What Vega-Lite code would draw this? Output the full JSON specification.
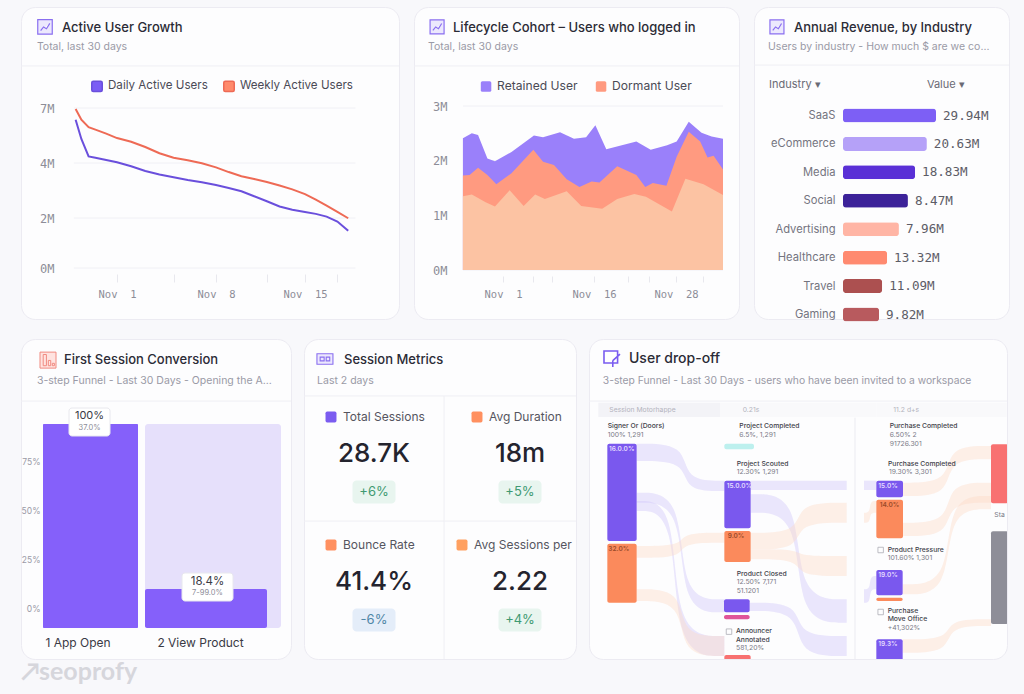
{"$schema":"https://vega.github.io/schema/vega-lite/v6.json","background":"#f8f8fb","padding":{"left":20,"top":6,"right":14,"bottom":5},"spacing":0,"resolve":{"scale":{"color":"independent"}},"config":{"view":{"fill":"#fdfdfe","stroke":"#ecebf2","cornerRadius":14,"strokeWidth":1},"axis":{"grid":false,"domain":false,"title":null},"legend":{"title":null}},"vconcat":[{"spacing":16,"resolve":{"scale":{"color":"independent"}},"vconcat":[{"spacing":13,"resolve":{"scale":{"color":"independent"}},"hconcat":[
{"width":378,"height":312,"title":{"text":"Active User Growth","anchor":"start","frame":"group","dx":41,"offset":-34,"font":"Inter","fontSize":13,"fontWeight":500,"color":"#2b2b36","baseline":"middle"},"resolve":{"scale":{"x":"independent","y":"independent"}},"layer":[
{"layer":[
{"data":{"values":[{"part":"divider"}]},"mark":{"type":"rule","color":"#efeff4"},"encoding":{"x":{"datum":0,"type":"quantitative","scale":{"domain":[0,1]},"axis":null},"x2":{"datum":1},"y":{"datum":0.189,"type":"quantitative","scale":{"domain":[0,1],"reverse":true},"axis":null}}},
{"data":{"values":[{"part":"icon"}]},"mark":{"type":"point","shape":"M-.5,-.5H.5V.5H-.5Z M-.3,.25L-.1,0L.1,.12L.33,-.25","size":841,"fill":"#ece8fd","stroke":"#8a6ff0","strokeWidth":1.2,"opacity":1},"encoding":{"x":{"datum":0.0635,"type":"quantitative","axis":null},"y":{"datum":0.064,"type":"quantitative","axis":null}}},
{"data":{"values":[{"subtitle":"Total, last 30 days"}]},"mark":{"type":"text","align":"left","font":"Inter","fontSize":10.5,"color":"#9a9aa6"},"encoding":{"x":{"datum":0.042,"type":"quantitative","axis":null},"y":{"datum":0.128,"type":"quantitative","axis":null},"text":{"field":"subtitle"}}}
]},
{"layer":[
{"data":{"values":[{"m":0,"from":-3,"to":19.67},{"m":2,"from":-3,"to":19.67},{"m":4,"from":-3,"to":19.67},{"m":7,"from":-3,"to":19.67}]},"mark":{"type":"rule","color":"#f0f0f5"},"encoding":{"x":{"field":"from","type":"quantitative"},"x2":{"field":"to"},"y":{"field":"m","type":"quantitative"}}},
{"data":{"values":[
{"day":-2.83,"series":"Daily Active Users","users":6.36},{"day":-2.3,"series":"Daily Active Users","users":5.31},{"day":-1.63,"series":"Daily Active Users","users":4.36},{"day":-1,"series":"Daily Active Users","users":4.29},{"day":0,"series":"Daily Active Users","users":4.16},{"day":1,"series":"Daily Active Users","users":4.04},{"day":2,"series":"Daily Active Users","users":3.88},{"day":3,"series":"Daily Active Users","users":3.71},{"day":4,"series":"Daily Active Users","users":3.58},{"day":5,"series":"Daily Active Users","users":3.48},{"day":6,"series":"Daily Active Users","users":3.38},{"day":7,"series":"Daily Active Users","users":3.3},{"day":8,"series":"Daily Active Users","users":3.2},{"day":9,"series":"Daily Active Users","users":3.09},{"day":10,"series":"Daily Active Users","users":2.97},{"day":11,"series":"Daily Active Users","users":2.79},{"day":12,"series":"Daily Active Users","users":2.61},{"day":13,"series":"Daily Active Users","users":2.42},{"day":14,"series":"Daily Active Users","users":2.3},{"day":15,"series":"Daily Active Users","users":2.22},{"day":16,"series":"Daily Active Users","users":2.15},{"day":17,"series":"Daily Active Users","users":2.05},{"day":18,"series":"Daily Active Users","users":1.86},{"day":19,"series":"Daily Active Users","users":1.49},
{"day":-2.83,"series":"Weekly Active Users","users":6.95},{"day":-2.3,"series":"Weekly Active Users","users":6.36},{"day":-1.63,"series":"Weekly Active Users","users":5.95},{"day":-1,"series":"Weekly Active Users","users":5.82},{"day":0,"series":"Weekly Active Users","users":5.6},{"day":1,"series":"Weekly Active Users","users":5.36},{"day":2,"series":"Weekly Active Users","users":5.16},{"day":3,"series":"Weekly Active Users","users":4.87},{"day":4,"series":"Weekly Active Users","users":4.53},{"day":5,"series":"Weekly Active Users","users":4.29},{"day":6,"series":"Weekly Active Users","users":4.15},{"day":7,"series":"Weekly Active Users","users":3.99},{"day":8,"series":"Weekly Active Users","users":3.84},{"day":9,"series":"Weekly Active Users","users":3.67},{"day":10,"series":"Weekly Active Users","users":3.52},{"day":11,"series":"Weekly Active Users","users":3.42},{"day":12,"series":"Weekly Active Users","users":3.31},{"day":13,"series":"Weekly Active Users","users":3.18},{"day":14,"series":"Weekly Active Users","users":3.04},{"day":15,"series":"Weekly Active Users","users":2.87},{"day":16,"series":"Weekly Active Users","users":2.67},{"day":17,"series":"Weekly Active Users","users":2.45},{"day":18,"series":"Weekly Active Users","users":2.22},{"day":19,"series":"Weekly Active Users","users":1.99}
]},"mark":{"type":"line","strokeWidth":2},"encoding":{
"x":{"field":"day","type":"quantitative","scale":{"domain":[-3,1,8,15,19],"range":[42,96,195,284,338]},"axis":{"orient":"bottom","offset":-45,"values":[1,5,8,12,15,18],"labelExpr":"indexof([1,8,15],datum.value)>=0?'Nov\u00a0\u00a0'+datum.value:''","labelFont":"DejaVu Sans Mono","labelFontSize":10.5,"labelColor":"#8d8d98","labelPadding":7,"tickColor":"#e8e8ee","tickSize":8,"labelOverlap":false}},
"y":{"field":"users","type":"quantitative","scale":{"domain":[0,2,4,7],"range":[261,211,156,101]},"axis":{"values":[0,2,4,7],"offset":-33,"ticks":false,"labelPadding":0,"labelExpr":"datum.value+'M'","labelFont":"DejaVu Sans Mono","labelFontSize":12,"labelColor":"#8d8d98"}},
"color":{"field":"series","type":"nominal","scale":{"domain":["Daily Active Users","Weekly Active Users"],"range":["#6a4fdc","#ee6a55"]},"legend":{"orient":"none","legendX":70,"legendY":73,"direction":"horizontal","symbolType":"M-.7,-1H.7Q1,-1 1,-.7V.7Q1,1 .7,1H-.7Q-1,1 -1,.7V-.7Q-1,-1 -.7,-1Z","symbolSize":110,"labelFont":"Inter","labelFontSize":11.6,"labelColor":"#4a4a55","columnPadding":12,"labelOffset":5,"encode":{"symbols":{"update":{"fill":{"signal":"datum.value=='Daily Active Users'?'#7b5cf5':'#ff8a6b'"},"stroke":{"value":"transparent"}}}}}}}}
]}]},
{"width":325,"height":312,"title":{"text":"Lifecycle Cohort – Users who logged in","anchor":"start","frame":"group","dx":39,"offset":-34,"font":"Inter","fontSize":13,"fontWeight":500,"color":"#2b2b36","baseline":"middle"},"resolve":{"scale":{"x":"independent","y":"independent"}},"layer":[
{"layer":[
{"data":{"values":[{"part":"divider"}]},"mark":{"type":"rule","color":"#efeff4"},"encoding":{"x":{"datum":0,"type":"quantitative","scale":{"domain":[0,1]},"axis":null},"x2":{"datum":1},"y":{"datum":0.189,"type":"quantitative","scale":{"domain":[0,1],"reverse":true},"axis":null}}},
{"data":{"values":[{"part":"icon"}]},"mark":{"type":"point","shape":"M-.5,-.5H.5V.5H-.5Z M-.3,.25L-.1,0L.1,.12L.33,-.25","size":784,"fill":"#ece8fd","stroke":"#8a6ff0","strokeWidth":1.2,"opacity":1},"encoding":{"x":{"datum":0.071,"type":"quantitative","axis":null},"y":{"datum":0.064,"type":"quantitative","axis":null}}},
{"data":{"values":[{"subtitle":"Total, last 30 days"}]},"mark":{"type":"text","align":"left","font":"Inter","fontSize":10.5,"color":"#9a9aa6"},"encoding":{"x":{"datum":0.043,"type":"quantitative","axis":null},"y":{"datum":0.128,"type":"quantitative","axis":null},"text":{"field":"subtitle"}}}
]},
{"layer":[
{"data":{"values":[{"m":0,"from":-8,"to":35},{"m":1,"from":-8,"to":35},{"m":2,"from":-8,"to":35},{"m":3,"from":-8,"to":35}]},"mark":{"type":"rule","color":"#f0f0f5"},"encoding":{"x":{"field":"from","type":"quantitative"},"x2":{"field":"to"},"y":{"field":"m","type":"quantitative"}}},
{"data":{"values":[
{"day":-8,"series":"Retained User","users":2.41},{"day":-6,"series":"Retained User","users":2.5},{"day":-4.6,"series":"Retained User","users":2.47},{"day":-2.5,"series":"Retained User","users":2.04},{"day":-0.8,"series":"Retained User","users":1.99},{"day":2.4,"series":"Retained User","users":2.16},{"day":6.1,"series":"Retained User","users":2.46},{"day":7.6,"series":"Retained User","users":2.43},{"day":10.4,"series":"Retained User","users":2.52},{"day":12.7,"series":"Retained User","users":2.4},{"day":14.7,"series":"Retained User","users":2.43},{"day":16.2,"series":"Retained User","users":2.65},{"day":17.8,"series":"Retained User","users":2.21},{"day":22.2,"series":"Retained User","users":2.35},{"day":24.3,"series":"Retained User","users":2.2},{"day":26.7,"series":"Retained User","users":2.28},{"day":28.1,"series":"Retained User","users":2.35},{"day":29.9,"series":"Retained User","users":2.71},{"day":31.8,"series":"Retained User","users":2.51},{"day":33.3,"series":"Retained User","users":2.44},{"day":35,"series":"Retained User","users":2.4},
{"day":-8,"series":"Dormant User","users":1.73},{"day":-6.5,"series":"Dormant User","users":1.74},{"day":-4.6,"series":"Dormant User","users":1.87},{"day":-2.5,"series":"Dormant User","users":1.74},{"day":-0.5,"series":"Dormant User","users":1.57},{"day":2.4,"series":"Dormant User","users":1.77},{"day":6,"series":"Dormant User","users":2.2},{"day":7.6,"series":"Dormant User","users":1.98},{"day":9.4,"series":"Dormant User","users":1.92},{"day":11.5,"series":"Dormant User","users":1.66},{"day":13.6,"series":"Dormant User","users":1.52},{"day":15.6,"series":"Dormant User","users":1.62},{"day":16.8,"series":"Dormant User","users":1.6},{"day":19.4,"series":"Dormant User","users":1.9},{"day":22.2,"series":"Dormant User","users":1.74},{"day":23.5,"series":"Dormant User","users":1.52},{"day":24.6,"series":"Dormant User","users":1.59},{"day":26.6,"series":"Dormant User","users":1.54},{"day":28.1,"series":"Dormant User","users":2.07},{"day":29.9,"series":"Dormant User","users":2.53},{"day":31.6,"series":"Dormant User","users":2.35},{"day":32.7,"series":"Dormant User","users":2.06},{"day":33.6,"series":"Dormant User","users":2.09},{"day":35,"series":"Dormant User","users":1.84},
{"day":-8,"series":"Base","users":1.35},{"day":-6,"series":"Base","users":1.38},{"day":-2.9,"series":"Base","users":1.24},{"day":-0.8,"series":"Base","users":1.16},{"day":2.1,"series":"Base","users":1.46},{"day":4.4,"series":"Base","users":1.17},{"day":6.3,"series":"Base","users":1.38},{"day":7.9,"series":"Base","users":1.3},{"day":11.5,"series":"Base","users":1.44},{"day":13.9,"series":"Base","users":1.17},{"day":17.2,"series":"Base","users":1.12},{"day":19.4,"series":"Base","users":1.3},{"day":21.9,"series":"Base","users":1.39},{"day":23.6,"series":"Base","users":1.34},{"day":27.4,"series":"Base","users":1.07},{"day":29.4,"series":"Base","users":1.67},{"day":32.1,"series":"Base","users":1.57},{"day":35,"series":"Base","users":1.37}
]},"mark":{"type":"area","opacity":1},"encoding":{
"x":{"field":"day","type":"quantitative","scale":{"domain":[-8,1,16,28,35],"range":[40,89,180,262,309]},"axis":{"orient":"bottom","offset":-43,"values":[1,6,9,16,21,24,28,32],"labelExpr":"indexof([1,16,28],datum.value)>=0?'Nov\u00a0\u00a0'+datum.value:''","labelFont":"DejaVu Sans Mono","labelFontSize":10.5,"labelColor":"#8d8d98","labelPadding":7,"tickColor":"#e8e8ee","tickSize":6,"labelOverlap":false}},
"y":{"field":"users","type":"quantitative","stack":null,"scale":{"domain":[0,3],"range":[263,99]},"axis":{"values":[0,1,2,3],"offset":-33,"ticks":false,"labelPadding":0,"labelExpr":"datum.value+'M'","labelFont":"DejaVu Sans Mono","labelFontSize":12,"labelColor":"#8d8d98"}},
"color":{"field":"series","type":"nominal","scale":{"domain":["Retained User","Dormant User","Base"],"range":["#9a80fa","#ff9a80","#fcc3a3"]},"legend":{"orient":"none","legendX":66,"legendY":73,"direction":"horizontal","values":["Retained User","Dormant User"],"symbolType":"M-.7,-1H.7Q1,-1 1,-.7V.7Q1,1 .7,1H-.7Q-1,1 -1,.7V-.7Q-1,-1 -.7,-1Z","symbolSize":110,"labelFont":"Inter","labelFontSize":12.1,"labelColor":"#4a4a55","columnPadding":17,"labelOffset":5,"encode":{"symbols":{"update":{"fill":{"signal":"datum.value=='Retained User'?'#7b52f5':'#ff8870'"},"opacity":{"value":1}}}}}}}}
]}]},
{"width":255,"height":312,"title":{"text":"Annual Revenue, by Industry","anchor":"start","frame":"group","dx":40,"offset":-34,"font":"Inter","fontSize":13,"fontWeight":500,"color":"#2b2b36","baseline":"middle"},"resolve":{"scale":{"x":"independent","y":"independent"}},"layer":[
{"layer":[
{"data":{"values":[{"part":"divider"}]},"mark":{"type":"rule","color":"#efeff4"},"encoding":{"x":{"datum":0,"type":"quantitative","scale":{"domain":[0,1]},"axis":null},"x2":{"datum":1},"y":{"datum":0.186,"type":"quantitative","scale":{"domain":[0,1],"reverse":true},"axis":null}}},
{"data":{"values":[{"part":"icon"}]},"mark":{"type":"point","shape":"M-.5,-.5H.5V.5H-.5Z M-.3,.25L-.1,0L.1,.12L.33,-.25","size":784,"fill":"#ece8fd","stroke":"#8a6ff0","strokeWidth":1.2,"opacity":1},"encoding":{"x":{"datum":0.09,"type":"quantitative","axis":null},"y":{"datum":0.064,"type":"quantitative","axis":null}}},
{"data":{"values":[{"subtitle":"Users by industry - How much $ are we co..."}]},"mark":{"type":"text","align":"left","font":"Inter","fontSize":10.5,"color":"#9a9aa6"},"encoding":{"x":{"datum":0.055,"type":"quantitative","axis":null},"y":{"datum":0.128,"type":"quantitative","axis":null},"text":{"field":"subtitle"}}},
{"data":{"values":[{"head":"Industry  ▾"}]},"mark":{"type":"text","align":"left","font":"Inter","fontSize":11,"color":"#6a6a75"},"encoding":{"x":{"datum":0.059,"type":"quantitative","axis":null},"y":{"datum":0.25,"type":"quantitative","axis":null},"text":{"field":"head"}}},
{"data":{"values":[{"head":"Value  ▾"}]},"mark":{"type":"text","align":"left","font":"Inter","fontSize":11,"color":"#6a6a75"},"encoding":{"x":{"datum":0.678,"type":"quantitative","axis":null},"y":{"datum":0.25,"type":"quantitative","axis":null},"text":{"field":"head"}}}
]},
{"data":{"values":[{"industry":"SaaS","bar":29.94,"value":"29.94M"},{"industry":"eCommerce","bar":27,"value":"20.63M"},{"industry":"Media","bar":23.2,"value":"18.83M"},{"industry":"Social","bar":20.9,"value":"8.47M"},{"industry":"Advertising","bar":18,"value":"7.96M"},{"industry":"Healthcare","bar":14.2,"value":"13.32M"},{"industry":"Travel","bar":12.6,"value":"11.09M"},{"industry":"Gaming","bar":11.6,"value":"9.82M"}]},
"encoding":{"x":{"field":"bar","type":"quantitative","scale":{"domain":[0,29.94],"range":[89,182]},"axis":null},"y":{"field":"industry","type":"nominal","scale":{"type":"point","padding":0,"domain":["SaaS","eCommerce","Media","Social","Advertising","Healthcare","Travel","Gaming"],"range":[108.5,307.5]},"axis":{"offset":-81,"ticks":false,"labelPadding":0,"labelFont":"Inter","labelFontSize":11.2,"labelColor":"#74747f"}}},
"layer":[{"mark":{"type":"bar","height":14,"cornerRadius":3},"encoding":{"color":{"field":"industry","type":"nominal","legend":null,"scale":{"domain":["SaaS","eCommerce","Media","Social","Advertising","Healthcare","Travel","Gaming"],"range":["#7d5ff5","#b5a1f8","#5a30d6","#3c2299","#ffb5a5","#ff8a70","#ac5050","#b85a5e"]}}}},
{"mark":{"type":"text","align":"left","dx":7,"font":"DejaVu Sans Mono","fontSize":12.6,"color":"#5c5c66"},"encoding":{"text":{"field":"value"}}}]}
]}
]},
{"spacing":11,"resolve":{"scale":{"color":"independent"}},"hconcat":[
{"width":270,"height":320,"title":{"text":"First Session Conversion","anchor":"start","frame":"group","dx":43,"offset":-34,"font":"Inter","fontSize":13,"fontWeight":500,"color":"#2b2b36","baseline":"middle"},"resolve":{"scale":{"x":"independent","y":"independent"}},"layer":[
{"layer":[
{"data":{"values":[{"part":"divider"}]},"mark":{"type":"rule","color":"#efeff4"},"encoding":{"x":{"datum":0,"type":"quantitative","scale":{"domain":[0,1]},"axis":null},"x2":{"datum":1},"y":{"datum":0.194,"type":"quantitative","scale":{"domain":[0,1],"reverse":true},"axis":null}}},
{"data":{"values":[{"part":"icon"}]},"mark":{"type":"point","shape":"M-.5,-.5H.5V.5H-.5Z M-.3,.35V-.35H-.1V.35Z M.02,.35V.02H.17V.35Z M.27,.35V.2H.4V.35Z","size":1024,"fill":"#ffe3e0","stroke":"#f08a80","strokeWidth":1,"opacity":1},"encoding":{"x":{"datum":0.1,"type":"quantitative","axis":null},"y":{"datum":0.066,"type":"quantitative","axis":null}}},
{"data":{"values":[{"subtitle":"3-step Funnel - Last 30 Days - Opening the A..."}]},"mark":{"type":"text","align":"left","font":"Inter","fontSize":10.5,"color":"#9a9aa6"},"encoding":{"x":{"datum":0.059,"type":"quantitative","axis":null},"y":{"datum":0.131,"type":"quantitative","axis":null},"text":{"field":"subtitle"}}}
]},
{"data":{"values":[{"p":0},{"p":25},{"p":50},{"p":75}]},"mark":{"type":"rule","opacity":0},"encoding":{"y":{"field":"p","type":"quantitative","scale":{"domain":[0,75],"range":[269,122]},"axis":{"values":[0,25,50,75],"offset":-19,"ticks":false,"labelPadding":0,"labelExpr":"datum.value+'%'","labelFont":"Inter","labelFontSize":8.5,"labelColor":"#9a9aa6"}}}},
{"data":{"values":[{"step":"1 App Open","conversion":100,"total":100,"label":"100%","share":"37.0%"},{"step":"2 View Product","conversion":18.4,"total":100,"label":"18.4%","share":"7-99.0%"}]},
"encoding":{"x":{"field":"step","type":"nominal","scale":{"type":"point","padding":0,"domain":["1 App Open","2 View Product"],"range":[69.5,192]},"axis":{"orient":"bottom","offset":-31,"ticks":false,"labelAngle":0,"labelOffset":-13,"labelPadding":9,"labelFont":"Inter","labelFontSize":12,"labelColor":"#3a3a45"}},"y":{"field":"conversion","type":"quantitative","scale":{"domain":[0,18.4,100],"range":[289,250,85]},"axis":null}},
"layer":[
{"transform":[{"filter":"datum.conversion<100"}],"mark":{"type":"bar","width":136,"color":"#e6e0fb","cornerRadius":3},"encoding":{"y":{"field":"total","type":"quantitative"}}},
{"transform":[{"filter":"datum.conversion==100"}],"mark":{"type":"bar","width":95,"color":"#8560fa","cornerRadius":1}},
{"transform":[{"filter":"datum.conversion<100"}],"mark":{"type":"bar","width":122,"xOffset":-7,"color":"#8560fa","cornerRadius":2}},
{"transform":[{"filter":"datum.conversion==100"}],"mark":{"type":"rect","width":41,"height":28,"xOffset":-1,"yOffset":-2,"fill":"#ffffff","stroke":"#e8e8ee","cornerRadius":3}},
{"transform":[{"filter":"datum.conversion<100"}],"mark":{"type":"rect","width":51,"height":28,"xOffset":-5.5,"yOffset":-2,"fill":"#ffffff","stroke":"#e8e8ee","cornerRadius":3}},
{"transform":[{"filter":"datum.conversion==100"}],"mark":{"type":"text","xOffset":-1,"yOffset":-8,"font":"Inter","fontSize":11,"color":"#3a3a45"},"encoding":{"text":{"field":"label"}}},
{"transform":[{"filter":"datum.conversion==100"}],"mark":{"type":"text","xOffset":-1,"yOffset":4,"font":"Inter","fontSize":7.5,"color":"#8d8d98"},"encoding":{"text":{"field":"share"}}},
{"transform":[{"filter":"datum.conversion<100"}],"mark":{"type":"text","xOffset":-5.5,"yOffset":-7,"font":"Inter","fontSize":11.5,"color":"#3a3a45"},"encoding":{"text":{"field":"label"}}},
{"transform":[{"filter":"datum.conversion<100"}],"mark":{"type":"text","xOffset":-5.5,"yOffset":4,"font":"Inter","fontSize":7.5,"color":"#8d8d98"},"encoding":{"text":{"field":"share"}}}
]}
]},
{"width":272,"height":320,"title":{"text":"Session Metrics","anchor":"start","frame":"group","dx":40,"offset":-34,"font":"Inter","fontSize":13,"fontWeight":500,"color":"#2b2b36","baseline":"middle"},"resolve":{"scale":{"x":"independent","y":"independent"}},"layer":[
{"layer":[
{"data":{"values":[{"part":"divider"}]},"mark":{"type":"rule","color":"#efeff4"},"encoding":{"x":{"datum":0,"type":"quantitative","scale":{"domain":[0,1]},"axis":null},"x2":{"datum":1},"y":{"datum":0.178,"type":"quantitative","scale":{"domain":[0,1],"reverse":true},"axis":null}}},
{"data":{"values":[{"part":"row-divider"}]},"mark":{"type":"rule","color":"#efeff4"},"encoding":{"x":{"datum":0,"type":"quantitative"},"x2":{"datum":1},"y":{"datum":0.569,"type":"quantitative"}}},
{"data":{"values":[{"part":"column-divider"}]},"mark":{"type":"rule","color":"#efeff4"},"encoding":{"x":{"datum":0.515,"type":"quantitative"},"y":{"datum":0.178,"type":"quantitative"},"y2":{"datum":1}}},
{"data":{"values":[{"part":"icon"}]},"mark":{"type":"point","shape":"M-.5,-.33H.5V.33H-.5Z M-.3,-.12H-.05V.12H-.3Z M.08,-.12H.3V.12H.08Z","size":1024,"fill":"#ece8fd","stroke":"#8a6ff0","strokeWidth":1.1,"opacity":1},"encoding":{"x":{"datum":0.077,"type":"quantitative","axis":null},"y":{"datum":0.0625,"type":"quantitative","axis":null}}},
{"data":{"values":[{"subtitle":"Last 2 days"}]},"mark":{"type":"text","align":"left","font":"Inter","fontSize":10.5,"color":"#9a9aa6"},"encoding":{"x":{"datum":0.048,"type":"quantitative","axis":null},"y":{"datum":0.131,"type":"quantitative","axis":null},"text":{"field":"subtitle"}}}
]},
{"data":{"values":[{"column":"Left","row":"Top","metric":"Total Sessions","value":"28.7K","delta":"+6%","trend":"up"},{"column":"Right","row":"Top","metric":"Avg Duration","value":"18m","delta":"+5%","trend":"up"},{"column":"Left","row":"Bottom","metric":"Bounce Rate","value":"41.4%","delta":"-6%","trend":"down"},{"column":"Right","row":"Bottom","metric":"Avg Sessions per","value":"2.22","delta":"+4%","trend":"up"}]},
"encoding":{"x":{"field":"column","type":"nominal","scale":{"type":"point","padding":0,"domain":["Left","Right"],"range":[70,216]},"axis":null},"y":{"field":"row","type":"nominal","scale":{"type":"point","padding":0,"domain":["Top","Bottom"],"range":[115,243]},"axis":null}},
"layer":[
{"transform":[{"filter":"datum.metric!='Avg Sessions per'"}],"mark":{"type":"text","align":"left","xOffset":-31,"yOffset":-37,"font":"Inter","fontSize":12,"color":"#55555f"},"encoding":{"text":{"field":"metric"}}},
{"transform":[{"filter":"datum.metric=='Avg Sessions per'"}],"mark":{"type":"text","align":"left","xOffset":-46,"yOffset":-37,"font":"Inter","fontSize":12,"color":"#55555f"},"encoding":{"text":{"field":"metric"}}},
{"transform":[{"filter":"datum.metric=='Total Sessions'"}],"mark":{"type":"point","filled":true,"opacity":1,"color":"#7b5cf0","shape":"M-.7,-1H.7Q1,-1 1,-.7V.7Q1,1 .7,1H-.7Q-1,1 -1,.7V-.7Q-1,-1 -.7,-1Z","size":120,"xOffset":-43,"yOffset":-37}},
{"transform":[{"filter":"datum.metric=='Avg Duration'||datum.metric=='Bounce Rate'"}],"mark":{"type":"point","filled":true,"opacity":1,"color":"#ff9060","shape":"M-.7,-1H.7Q1,-1 1,-.7V.7Q1,1 .7,1H-.7Q-1,1 -1,.7V-.7Q-1,-1 -.7,-1Z","size":120,"xOffset":-43,"yOffset":-37}},
{"transform":[{"filter":"datum.metric=='Avg Sessions per'"}],"mark":{"type":"point","filled":true,"opacity":1,"color":"#ffa060","shape":"M-.7,-1H.7Q1,-1 1,-.7V.7Q1,1 .7,1H-.7Q-1,1 -1,.7V-.7Q-1,-1 -.7,-1Z","size":120,"xOffset":-58,"yOffset":-37}},
{"mark":{"type":"text","font":"Inter","fontSize":26,"fontWeight":500,"color":"#24242e"},"encoding":{"text":{"field":"value"}}},
{"transform":[{"filter":"datum.trend=='up'"}],"mark":{"type":"rect","width":43,"height":23,"yOffset":38,"cornerRadius":4,"color":"#e8f5ef"}},
{"transform":[{"filter":"datum.trend=='down'"}],"mark":{"type":"rect","width":43,"height":23,"yOffset":38,"cornerRadius":4,"color":"#e4edf9"}},
{"transform":[{"filter":"datum.trend=='up'"}],"mark":{"type":"text","yOffset":38,"font":"Inter","fontSize":13,"color":"#3f9a72"},"encoding":{"text":{"field":"delta"}}},
{"transform":[{"filter":"datum.trend=='down'"}],"mark":{"type":"text","yOffset":38,"font":"Inter","fontSize":13,"color":"#4f86a6"},"encoding":{"text":{"field":"delta"}}}
]}
]},
{"width":418,"height":320,"title":{"text":"User drop-off","anchor":"start","frame":"group","dx":40,"offset":-34,"font":"Inter","fontSize":14,"fontWeight":500,"color":"#2b2b36","baseline":"middle"},"resolve":{"scale":{"x":"independent","y":"independent"}},"layer":[
{"layer":[
{"data":{"values":[{"part":"divider"}]},"mark":{"type":"rule","color":"#efeff4"},"encoding":{"x":{"datum":0,"type":"quantitative","scale":{"domain":[0,1]},"axis":null},"x2":{"datum":1},"y":{"datum":0.194,"type":"quantitative","scale":{"domain":[0,1],"reverse":true},"axis":null}}},
{"data":{"values":[{"part":"icon"}]},"mark":{"type":"point","shape":"M-.5,-.5H.35V.25H-.5Z M.05,.1L.5,-.3 M.05,.1V.5","size":1024,"fill":"#ffffff","stroke":"#7a5cf0","strokeWidth":1.6,"opacity":1},"encoding":{"x":{"datum":0.055,"type":"quantitative","axis":null},"y":{"datum":0.0625,"type":"quantitative","axis":null}}},
{"data":{"values":[{"subtitle":"3-step Funnel - Last 30 Days - users who have been invited to a workspace"}]},"mark":{"type":"text","align":"left","font":"Inter","fontSize":10.3,"color":"#9a9aa6"},"encoding":{"x":{"datum":0.033,"type":"quantitative","axis":null},"y":{"datum":0.131,"type":"quantitative","axis":null},"text":{"field":"subtitle"}}}
]},
{"encoding":{"x":{"type":"quantitative","scale":{"domain":[12,1266],"range":[0,418]},"axis":null},"y":{"type":"quantitative","scale":{"domain":[9,969],"range":[0,320]},"axis":null}},"layer":[
{"data":{"values":[{"x0":40,"x1":405,"y0":200,"y1":243}]},"mark":{"type":"rect","clip":true,"color":"#f3f3f7"},"encoding":{"x":{"field":"x0"},"x2":{"field":"x1"},"y":{"field":"y0"},"y2":{"field":"y1"}}},
{"data":{"values":[{"x0":405,"x1":875,"y0":200,"y1":243},{"x0":875,"x1":1265,"y0":200,"y1":243}]},"mark":{"type":"rect","clip":true,"color":"#f9f9fb"},"encoding":{"x":{"field":"x0"},"x2":{"field":"x1"},"y":{"field":"y0"},"y2":{"field":"y1"}}},
{"data":{"values":[{"x":810,"y0":245,"y1":969}]},"mark":{"type":"rule","color":"#ebebf1"},"encoding":{"x":{"field":"x"},"y":{"field":"y0"},"y2":{"field":"y1"}}},
{"data":{"values":[
{"flow":"P1","x":155,"a":323,"b":375},{"flow":"P1","x":300,"a":323,"b":375},{"flow":"P1","x":300,"a":434,"b":465},{"flow":"P1","x":418,"a":434,"b":465},
{"flow":"P1b","x":497,"a":434,"b":462},{"flow":"P1b","x":785,"a":434,"b":462},
{"flow":"P1c","x":837,"a":434,"b":462},{"flow":"P1c","x":874,"a":434,"b":462},
{"flow":"P2","x":155,"a":470,"b":500},{"flow":"P2","x":290,"a":470,"b":500},{"flow":"P2","x":290,"a":790,"b":829},{"flow":"P2","x":417,"a":790,"b":829},
{"flow":"P3","x":155,"a":495,"b":525},{"flow":"P3","x":270,"a":495,"b":525},{"flow":"P3","x":270,"a":900,"b":960},{"flow":"P3","x":418,"a":900,"b":960},
{"flow":"P4","x":497,"a":475,"b":530},{"flow":"P4","x":640,"a":475,"b":530},{"flow":"P4","x":640,"a":790,"b":860},{"flow":"P4","x":785,"a":790,"b":860},
{"flow":"P5","x":494,"a":800,"b":825},{"flow":"P5","x":640,"a":800,"b":825},{"flow":"P5","x":640,"a":900,"b":960},{"flow":"P5","x":785,"a":900,"b":960},
{"flow":"P6","x":837,"a":760,"b":800},{"flow":"P6","x":855,"a":760,"b":800},{"flow":"P6","x":855,"a":720,"b":760},{"flow":"P6","x":874,"a":720,"b":760}
]},"mark":{"type":"area","interpolate":"basis","color":"#cfc6fa","opacity":0.42,"clip":true},"encoding":{"x":{"field":"x"},"y":{"field":"a"},"y2":{"field":"b"},"detail":{"field":"flow"}}},
{"data":{"values":[
{"flow":"O1","x":155,"a":630,"b":665},{"flow":"O1","x":290,"a":630,"b":665},{"flow":"O1","x":290,"a":590,"b":620},{"flow":"O1","x":418,"a":590,"b":620},
{"flow":"O2","x":155,"a":760,"b":795},{"flow":"O2","x":290,"a":760,"b":795},{"flow":"O2","x":290,"a":900,"b":960},{"flow":"O2","x":418,"a":900,"b":960},
{"flow":"O3","x":497,"a":590,"b":640},{"flow":"O3","x":640,"a":590,"b":640},{"flow":"O3","x":640,"a":500,"b":560},{"flow":"O3","x":785,"a":500,"b":560},
{"flow":"O4","x":497,"a":640,"b":670},{"flow":"O4","x":640,"a":640,"b":670},{"flow":"O4","x":640,"a":660,"b":720},{"flow":"O4","x":785,"a":660,"b":720},
{"flow":"O5","x":837,"a":530,"b":560},{"flow":"O5","x":855,"a":530,"b":560},{"flow":"O5","x":855,"a":495,"b":530},{"flow":"O5","x":874,"a":495,"b":530},
{"flow":"O6","x":954,"a":440,"b":480},{"flow":"O6","x":1090,"a":440,"b":480},{"flow":"O6","x":1090,"a":330,"b":370},{"flow":"O6","x":1218,"a":330,"b":370},
{"flow":"O7","x":954,"a":560,"b":600},{"flow":"O7","x":1090,"a":560,"b":600},{"flow":"O7","x":1090,"a":440,"b":500},{"flow":"O7","x":1218,"a":440,"b":500},
{"flow":"O8","x":953,"a":745,"b":775},{"flow":"O8","x":1090,"a":745,"b":775},{"flow":"O8","x":1090,"a":480,"b":520},{"flow":"O8","x":1218,"a":480,"b":520},
{"flow":"O9","x":953,"a":910,"b":950},{"flow":"O9","x":1090,"a":910,"b":950},{"flow":"O9","x":1090,"a":850,"b":870},{"flow":"O9","x":1218,"a":850,"b":870}
]},"mark":{"type":"area","interpolate":"basis","color":"#fcd9c6","opacity":0.4,"clip":true},"encoding":{"x":{"field":"x"},"y":{"field":"a"},"y2":{"field":"b"},"detail":{"field":"flow"}}},
{"data":{"values":[
{"x0":67,"x1":155,"y0":323,"y1":615,"kind":"retained"},{"x0":67,"x1":155,"y0":623,"y1":800,"kind":"dormant"},
{"x0":418,"x1":497,"y0":434,"y1":577,"kind":"retained"},{"x0":418,"x1":497,"y0":585,"y1":678,"kind":"dormant"},{"x0":417,"x1":494,"y0":790,"y1":829,"kind":"retained"},{"x0":417,"x1":494,"y0":837,"y1":850,"kind":"pink"},{"x0":418,"x1":497,"y0":957,"y1":975,"kind":"red"},
{"x0":874,"x1":954,"y0":434,"y1":484,"kind":"retained"},{"x0":874,"x1":954,"y0":491,"y1":607,"kind":"dormant"},{"x0":874,"x1":953,"y0":702,"y1":778,"kind":"retained"},{"x0":874,"x1":953,"y0":785,"y1":795,"kind":"dormant"},{"x0":874,"x1":953,"y0":910,"y1":975,"kind":"retained"},
{"x0":1218,"x1":1269,"y0":325,"y1":502,"kind":"red"},{"x0":1218,"x1":1269,"y0":586,"y1":864,"kind":"gray"}
]},"mark":{"type":"rect","clip":true,"cornerRadius":2},"encoding":{"x":{"field":"x0"},"x2":{"field":"x1"},"y":{"field":"y0"},"y2":{"field":"y1"},"color":{"field":"kind","type":"nominal","legend":null,"scale":{"domain":["retained","dormant","pink","red","gray"],"range":["#7a58ee","#fb8a5c","#e0559a","#f87171","#8e8e98"]}}}},
{"data":{"values":[{"x0":418,"x1":507,"y0":323,"y1":340}]},"mark":{"type":"rect","color":"#bdf0ee","cornerRadius":2},"encoding":{"x":{"field":"x0"},"x2":{"field":"x1"},"y":{"field":"y0"},"y2":{"field":"y1"}}},
{"data":{"values":[{"x":432,"y":887},{"x":887,"y":642},{"x":887,"y":828}]},"mark":{"type":"point","shape":"square","size":30,"color":"#8d8d98","strokeWidth":0.8},"encoding":{"x":{"field":"x"},"y":{"field":"y"}}},
{"data":{"values":[
{"x":68,"y":270,"t":"Signer Or (Doors)"},{"x":463,"y":270,"t":"Project Completed"},{"x":455,"y":384,"t":"Project Scouted"},{"x":455,"y":713,"t":"Product Closed"},{"x":453,"y":885,"t":"Announcer"},{"x":453,"y":911,"t":"Annotated"},{"x":914,"y":270,"t":"Purchase Completed"},{"x":909,"y":383,"t":"Purchase Completed"},{"x":908,"y":641,"t":"Product Pressure"},{"x":908,"y":825,"t":"Purchase"},{"x":908,"y":850,"t":"Move Office"}
]},"mark":{"type":"text","align":"left","font":"Inter","fontSize":6.8,"fontWeight":500,"color":"#3f3f4a"},"encoding":{"x":{"field":"x"},"y":{"field":"y"},"text":{"field":"t"}}},
{"data":{"values":[
{"x":68,"y":296,"t":"100% 1,291"},{"x":463,"y":296,"t":"6.5%, 1,291"},{"x":455,"y":409,"t":"12.30% 1,291"},{"x":455,"y":738,"t":"12.50% 7,171"},{"x":455,"y":764,"t":"51.1201"},{"x":453,"y":936,"t":"581,20%"},{"x":914,"y":296,"t":"6.50% 2"},{"x":914,"y":323,"t":"91726.301"},{"x":912,"y":408,"t":"19.30% 3,301"},{"x":908,"y":667,"t":"101.60% 1,301"},{"x":908,"y":877,"t":"+41,302%"},{"x":1228,"y":537,"t":"Sta"}
]},"mark":{"type":"text","align":"left","font":"Inter","fontSize":6.8,"color":"#7a7a86","clip":true},"encoding":{"x":{"field":"x"},"y":{"field":"y"},"text":{"field":"t"}}},
{"data":{"values":[{"x":72,"y":340,"t":"16.0.0%"},{"x":425,"y":450,"t":"15.0.0%"},{"x":880,"y":450,"t":"15.0%"},{"x":880,"y":717,"t":"19.0%"},{"x":880,"y":925,"t":"19.3%"}]},"mark":{"type":"text","align":"left","font":"Inter","fontSize":6.5,"fontWeight":600,"color":"#e4dcff"},"encoding":{"x":{"field":"x"},"y":{"field":"y"},"text":{"field":"t"}}},
{"data":{"values":[{"x":70,"y":640,"t":"32.0%"},{"x":428,"y":600,"t":"9.0%"},{"x":884,"y":507,"t":"14.0%"}]},"mark":{"type":"text","align":"left","font":"Inter","fontSize":6.5,"fontWeight":600,"color":"#9a4a2a"},"encoding":{"x":{"field":"x"},"y":{"field":"y"},"text":{"field":"t"}}},
{"data":{"values":[{"x":73,"y":221,"t":"Session Motorhappe"},{"x":473,"y":221,"t":"0.21s"},{"x":925,"y":221,"t":"11.2 d+s"}]},"mark":{"type":"text","align":"left","font":"Inter","fontSize":6.8,"color":"#b4b4be"},"encoding":{"x":{"field":"x"},"y":{"field":"y"},"text":{"field":"t"}}}
]}
]}
]}
]},
{"width":150,"height":30,"view":{"fill":null,"stroke":null},"data":{"values":[{"mark":"↗","at":0},{"mark":"seoprofy","at":0.12}]},"mark":{"type":"text","align":"left","font":"Lato","fontSize":25,"fontWeight":700,"color":"#d6d6dc"},"encoding":{"x":{"field":"at","type":"quantitative","scale":{"domain":[0,1]},"axis":null},"y":{"datum":0.37,"type":"quantitative","scale":{"domain":[0,1],"reverse":true},"axis":null},"text":{"field":"mark"}}}
]}
